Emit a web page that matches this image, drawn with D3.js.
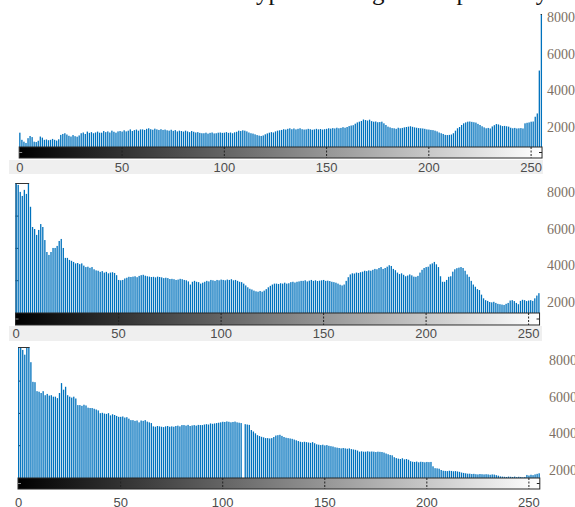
<!DOCTYPE html>
<html>
<head>
<meta charset="utf-8">
<script src="https://cdn.jsdelivr.net/npm/d3@7"></script>
<style>
  body { margin: 0; background: #fff; }
  svg { display: block; }
</style>
</head>
<body>
<svg id="chart" width="575" height="507"></svg>
<script>
// gray levels 0..255
const levels = d3.range(256);
const xTicks = [0, 50, 100, 150, 200, 250];
const yTicks = [2000, 4000, 6000, 8000];
const innerTicks = [2000, 4000, 6000];
const titleText = "typical histogram of plausibly";

// counts, one value per gray level
const countsTop = [
  1690, 1300, 1200, 1130, 1390, 1510, 1450, 1200, 1180, 1250,
  1480, 1420, 1300, 1320, 1280, 1300, 1350, 1300, 1260, 1330,
  1570, 1620, 1660, 1590, 1520, 1480, 1560, 1500, 1470, 1540,
  1660, 1700, 1620, 1750, 1680, 1720, 1660, 1700, 1750, 1690,
  1690, 1780, 1720, 1760, 1700, 1800, 1740, 1690, 1760, 1780,
  1750, 1820, 1760, 1800, 1870, 1780, 1830, 1860, 1800, 1870,
  1870, 1840, 1900, 1930, 1880, 1850, 1910, 1870, 1840, 1880,
  1840, 1860, 1820, 1800, 1850, 1790, 1830, 1760, 1800, 1780,
  1750, 1800, 1760, 1720, 1780, 1740, 1700, 1720, 1680, 1660,
  1660, 1690, 1640, 1680, 1700, 1650, 1660, 1690, 1700, 1680,
  1690, 1720, 1680, 1700, 1660, 1710, 1740, 1800, 1780, 1820,
  1800, 1760, 1700, 1660, 1640, 1600, 1560, 1530, 1510, 1540,
  1600, 1650, 1690, 1720, 1700, 1760, 1800, 1820, 1840, 1880,
  1860, 1900, 1930, 1880, 1920, 1870, 1900, 1930, 1880, 1860,
  1870, 1900, 1880, 1850, 1870, 1900, 1870, 1890, 1860, 1880,
  1900, 1930, 1910, 1940, 1920, 1960, 1930, 1950, 1990, 1960,
  2000, 2050, 2080, 2100, 2180, 2250, 2290, 2330, 2410, 2380,
  2350, 2400, 2320, 2290, 2300, 2260, 2270, 2290, 2200, 2110,
  2020, 1980, 1940, 1930, 1900, 1960, 1930, 1950, 1980, 2000,
  2020, 2040, 2010, 1980, 1960, 1940, 1930, 1920, 1900, 1870,
  1860, 1840, 1830, 1800, 1760, 1700, 1660, 1620, 1570, 1560,
  1570, 1590, 1660, 1800, 1930, 2000, 2110, 2200, 2250, 2290,
  2300, 2280, 2260, 2240, 2170, 2110, 2040, 1980, 1930, 1950,
  1920, 2030, 2100, 2160, 2140, 2090, 2050, 2060, 2040, 2020,
  1960, 1930, 1950, 1920, 1930, 1940, 1920, 2200, 2230, 2250,
  2290, 2300, 2560, 2740, 5080, 8300
];

const countsMid = [
  8600, 8370, 7990, 7770, 8100, 7880, 8600, 7180, 6080, 5970,
  5650, 5920, 6240, 6080, 5370, 4720, 4560, 4720, 4940, 4940,
  5050, 5320, 5430, 4940, 4400, 4400, 4290, 4240, 4180, 4100,
  4120, 4060, 4100, 3980, 3900, 3920, 3860, 3900, 3780, 3720,
  3700, 3640, 3680, 3600, 3640, 3560, 3600, 3620, 3580, 3460,
  3200, 3180, 3200, 3280, 3320, 3370, 3360, 3380, 3400, 3350,
  3420, 3460, 3480, 3430, 3400, 3380, 3360, 3370, 3340, 3380,
  3360, 3340, 3300, 3320, 3300, 3250, 3260, 3240, 3200, 3220,
  3260, 3240, 3200, 3180, 3120, 2950, 3100, 3150, 3100, 3080,
  3000, 3050, 3100, 3150, 3120, 3200, 3180, 3150, 3200, 3180,
  3220, 3200, 3180, 3220, 3200, 3240, 3180, 3200, 3150, 3100,
  3080, 3000, 2900, 2800, 2720, 2680, 2620, 2580, 2560, 2600,
  2560, 2620, 2700, 2800, 2880, 2950, 3000, 3000, 2980, 3020,
  3000, 3050, 3000, 3020, 3080, 3100, 3060, 3100, 3120, 3150,
  3150, 3180, 3120, 3160, 3200, 3150, 3180, 3140, 3160, 3180,
  3200, 3150, 3160, 3140, 3100, 3080, 3050, 3000, 2940, 2900,
  2950, 3150, 3350, 3500, 3560, 3550, 3600, 3580, 3620, 3650,
  3700, 3680, 3720, 3700, 3750, 3800, 3780, 3850, 3900, 3800,
  3850, 3920, 4000, 3960, 3800, 3730, 3600, 3520, 3560, 3480,
  3400, 3440, 3500, 3450, 3380, 3370, 3420, 3600, 3750, 3850,
  3900, 3920, 4050, 4100, 4180, 4050, 3900, 3400, 3100, 3100,
  3200, 3370, 3400, 3650, 3780, 3840, 3870, 3900, 3850, 3700,
  3500, 3370, 3150, 2950, 2830, 2700, 2650, 2400, 2200, 2100,
  2060, 2000, 1980, 2010, 1950, 1900, 1880, 1860, 1840, 1900,
  1950, 2080, 2100, 2050, 1950, 1880, 2060, 2120, 2100, 2050,
  2080, 2100, 2060, 2200, 2350, 2480
];

const countsBottom = [
  8900, 8800, 8550, 8290, 8850, 8900, 7880, 6810, 6790, 6300,
  6270, 6200, 6300, 6080, 6150, 6060, 6080, 6000, 6000, 5920,
  6200, 6740, 6380, 6540, 6080, 6000, 5950, 6000, 5900, 5540,
  5540, 5500, 5560, 5520, 5400, 5380, 5380, 5340, 5300, 5250,
  5100, 5120, 5080, 5060, 5100, 4980, 5040, 5000, 4950, 4900,
  4900, 4920, 4860, 4880, 4800, 4720, 4720, 4680, 4700, 4600,
  4700, 4680, 4720, 4640, 4600, 4560, 4380, 4360, 4400, 4380,
  4360, 4340, 4380, 4400, 4360, 4380, 4360, 4400, 4420, 4380,
  4450, 4450, 4420, 4460, 4400, 4430, 4450, 4420, 4460, 4450,
  4450, 4480, 4500, 4480, 4540, 4520, 4540, 4560, 4580, 4600,
  4630, 4620, 4650, 4630, 4600, 4620, 4640, 4600, 4580, 4560,
  0, 4500, 4480, 4460, 4180, 4100, 4000, 3900, 3850, 3810,
  3780, 3740, 3740, 3720, 3740, 3800, 3880, 3900, 3920, 3860,
  3800, 3760, 3740, 3720, 3700, 3660, 3620, 3580, 3540, 3520,
  3540, 3520, 3500, 3480, 3520, 3460, 3400, 3380, 3360, 3380,
  3340, 3360, 3320, 3300, 3280, 3240, 3220, 3200, 3180, 3200,
  3180, 3160, 3180, 3140, 3120, 3100, 3060, 3000, 3020, 3000,
  3000, 3020, 3000, 3010, 3000, 2980, 3000, 2990, 2980, 2950,
  2900, 2860, 2820, 2800, 2700, 2650, 2620, 2600, 2640, 2580,
  2600, 2560, 2480, 2450, 2440, 2460, 2420, 2450, 2440, 2420,
  2440, 2430, 2440, 2200, 2100, 2090, 2070, 2000, 1960, 1950,
  1940, 1960, 1950, 1930, 1940, 1920, 1900, 1860, 1840, 1820,
  1800, 1800, 1780, 1790, 1770, 1760, 1780, 1770, 1760, 1770,
  1760, 1740, 1760, 1750, 1720, 1690, 1650, 1640, 1630, 1620,
  1640, 1630, 1620, 1640, 1610, 1630, 1620, 1600, 1620, 1730,
  1700, 1740, 1720, 1760, 1790, 1820
];

// layout of the three stacked panels (pixels)
const panels = [
  { data: countsTop, x0: 19.2, x250: 530.5, y2000: 127, y8000: 17, top: 14, base: 147, rampH: 11,
    labelY: 167, band: [9, 160, 534, 14], leftAxis: false, rightX: 547 },
  { data: countsMid, x0: 15.5, x250: 528, y2000: 302, y8000: 191.7, top: 183, base: 313, rampH: 12,
    labelY: 333, band: [9, 326, 533, 15], leftAxis: true, rightX: 547 },
  { data: countsBottom, x0: 18, x250: 528.3, y2000: 470, y8000: 360, top: 347, base: 478, rampH: 11,
    labelY: 502, band: null, leftAxis: true, rightX: 549 }
];

const barW = 1.3;
const blue = "#0072BD";

const svg = d3.select("#chart");
const defs = svg.append("defs");

const grad = defs.append("linearGradient").attr("id", "ramp");
grad.append("stop").attr("offset", "0%").attr("stop-color", "#000");
grad.append("stop").attr("offset", "100%").attr("stop-color", "#fff");

// title, mostly cut off by the top edge
svg.append("text")
  .attr("x", 249)
  .attr("y", 0)
  .style("font-family", "'Liberation Serif', 'Times New Roman', serif")
  .style("font-size", "25px")
  .attr("fill", "#111")
  .text(titleText);

panels.forEach((p, k) => {
  const x = d3.scaleLinear().domain([0, 250]).range([p.x0, p.x250]);
  const y = d3.scaleLinear().domain([2000, 8000]).range([p.y2000, p.y8000]);
  const inner = d3.scaleLinear().domain([0, 2000]).range([p.base, p.base - 32.3]);
  const g = svg.append("g");
  const right = x(255) + barW;

  if (p.band) {
    g.append("rect")
      .attr("x", p.band[0]).attr("y", p.band[1])
      .attr("width", p.band[2]).attr("height", p.band[3])
      .attr("fill", "#efefef");
  }

  defs.append("clipPath").attr("id", "clip" + k)
    .append("rect")
    .attr("x", p.x0 - 2).attr("y", p.top)
    .attr("width", right - p.x0 + 4).attr("height", p.base - p.top);

  if (p.leftAxis) {
    g.append("line")
      .attr("x1", p.x0 + 0.5).attr("x2", p.x0 + 0.5)
      .attr("y1", p.top).attr("y2", p.base)
      .attr("stroke", "#333").attr("stroke-width", 1);
    g.selectAll(".itick").data(innerTicks).enter().append("line")
      .attr("x1", p.x0).attr("x2", p.x0 + 3)
      .attr("y1", d => inner(d)).attr("y2", d => inner(d))
      .attr("stroke", "#333").attr("stroke-width", 1);
  }

  // bars
  g.append("g").attr("clip-path", "url(#clip" + k + ")")
    .selectAll("rect")
    .data(levels)
    .enter()
    .append("rect")
    .attr("x", i => x(i))
    .attr("width", barW)
    .attr("y", i => Math.max(y(p.data[i]), p.top))
    .attr("height", i => Math.max(0, p.base - Math.max(y(p.data[i]), p.top)))
    .attr("fill", blue);

  // dark cap over bars that run off the top
  const over = levels.filter(i => y(p.data[i]) < p.top);
  if (over.length) {
    g.append("line")
      .attr("x1", x(d3.min(over))).attr("x2", x(d3.max(over)) + barW)
      .attr("y1", p.top + 0.5).attr("y2", p.top + 0.5)
      .attr("stroke", "#333").attr("stroke-width", 1);
  }

  // gray ramp under the histogram
  g.append("rect")
    .attr("x", p.x0).attr("y", p.base)
    .attr("width", right - p.x0).attr("height", p.rampH)
    .attr("fill", "url(#ramp)")
    .attr("stroke", "#262626").attr("stroke-width", 1);

  g.selectAll(".dtick").data(xTicks.slice(1)).enter().append("line")
    .attr("x1", d => x(d) + 0.6).attr("x2", d => x(d) + 0.6)
    .attr("y1", p.base).attr("y2", p.base + p.rampH)
    .attr("stroke", "#222").attr("stroke-width", 1)
    .attr("stroke-dasharray", "2,1.5");

  g.append("line")
    .attr("x1", p.x0).attr("x2", p.x0 + 3)
    .attr("y1", p.base + p.rampH / 2).attr("y2", p.base + p.rampH / 2)
    .attr("stroke", "#888");
  g.append("line")
    .attr("x1", right - 3).attr("x2", right)
    .attr("y1", p.base + p.rampH / 2).attr("y2", p.base + p.rampH / 2)
    .attr("stroke", "#222");

  // x labels
  g.selectAll(".xl").data(xTicks).enter().append("text")
    .attr("x", d => x(d) + 0.6)
    .attr("y", p.labelY)
    .attr("dy", "0.36em")
    .attr("text-anchor", "middle")
    .style("font-family", "'Liberation Sans', Arial, sans-serif")
    .style("font-size", "13px")
    .attr("fill", "#4d4d4d")
    .text(d => d);

  // right labels
  g.selectAll(".yl").data(yTicks).enter().append("text")
    .attr("x", p.rightX)
    .attr("y", d => y(d))
    .attr("dy", "0.36em")
    .style("font-family", "'Liberation Serif', 'Times New Roman', serif")
    .style("font-size", "14px")
    .attr("fill", "#7d7064")
    .text(d => d);
});
</script>
</body>
</html>
